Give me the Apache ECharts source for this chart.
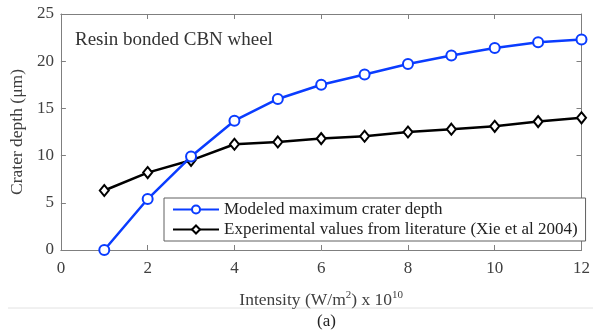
<!DOCTYPE html>
<html>
<head>
<meta charset="utf-8">
<script src="https://cdn.jsdelivr.net/npm/echarts@6/dist/echarts.min.js"></script>
<style>
  html, body { margin: 0; padding: 0; background: #fff; }
  #main { width: 593px; height: 334px; }
</style>
</head>
<body>
<div id="main"></div>
<script>
var intensity = [1, 2, 3, 4, 5, 6, 7, 8, 9, 10, 11, 12];
var modeled = [0, 5.4, 9.9, 13.7, 16.0, 17.5, 18.6, 19.7, 20.6, 21.4, 22.0, 22.3];
var experimental = [6.3, 8.2, 9.5, 11.2, 11.45, 11.8, 12.05, 12.5, 12.8, 13.1, 13.6, 14.0];
var xTicks = [0, 2, 4, 6, 8, 10, 12];
var yTicks = [0, 5, 10, 15, 20, 25];

var FONT = '"Liberation Serif", "Times New Roman", serif';
var AXIS_GREY = '#7f7f7f';
var TEXT_GREY = '#404040';

var chartDom = document.getElementById('main');
var myChart = echarts.init(chartDom);
var option;

function pairs(ys) {
    return intensity.map(function (x, i) { return [x, ys[i]]; });
}

// box axes (top / right) just mirror the ticks, no labels
function boxAxis(pos, max, step) {
    return {
        type: 'value',
        position: pos,
        min: 0,
        max: max,
        interval: step,
        axisLine: { show: true, onZero: false, lineStyle: { color: AXIS_GREY, width: 1 } },
        axisTick: { show: true, inside: true, length: 5, lineStyle: { color: AXIS_GREY } },
        axisLabel: { show: false },
        splitLine: { show: false }
    };
}

option = {
    animation: false,
    textStyle: { fontFamily: FONT },
    grid: {
        left: 58,
        top: 14,
        right: 8,
        bottom: 84,
        show: false
    },
    legend: {
        orient: 'vertical',
        left: 164,
        top: 198,
        itemWidth: 46,
        itemHeight: 10,
        itemGap: 3,
        padding: [3, 8, 3, 8],
        borderColor: '#606060',
        borderWidth: 1,
        backgroundColor: '#fff',
        textStyle: { fontFamily: FONT, fontSize: 17, color: '#222' },
        data: ['Modeled maximum crater depth', 'Experimental values from literature (Xie et al 2004)']
    },
    xAxis: [
        {
            type: 'value',
            min: 0,
            max: 12,
            interval: 2,
            name: '{a|Intensity (W/m}{s|2}{a|) x 10}{s|10}',
            nameLocation: 'middle',
            nameGap: 40,
            nameTextStyle: {
                rich: {
                    a: { fontFamily: FONT, fontSize: 17.5, color: TEXT_GREY },
                    s: { fontFamily: FONT, fontSize: 11, color: TEXT_GREY, padding: [0, 0, 9, 0] }
                }
            },
            axisLine: { show: true, onZero: false, lineStyle: { color: AXIS_GREY, width: 1 } },
            axisTick: { show: true, inside: true, length: 5, lineStyle: { color: AXIS_GREY } },
            axisLabel: {
                fontFamily: FONT, fontSize: 17, color: TEXT_GREY, margin: 10,
                customValues: xTicks
            },
            splitLine: { show: false }
        },
        boxAxis('top', 12, 2)
    ],
    yAxis: [
        {
            type: 'value',
            min: 0,
            max: 25,
            interval: 5,
            name: 'Crater depth (\u03bcm)',
            nameLocation: 'middle',
            nameGap: 33,
            nameTextStyle: { fontFamily: FONT, fontSize: 17.5, color: TEXT_GREY },
            axisLine: { show: true, onZero: false, lineStyle: { color: AXIS_GREY, width: 1 } },
            axisTick: { show: true, inside: true, length: 5, lineStyle: { color: AXIS_GREY } },
            axisLabel: {
                fontFamily: FONT, fontSize: 17, color: TEXT_GREY, margin: 7,
                customValues: yTicks
            },
            splitLine: { show: false }
        },
        boxAxis('right', 25, 5)
    ],
    graphic: [
        {
            type: 'text',
            left: 75,
            top: 31,
            style: { text: 'Resin bonded CBN wheel', font: '19px ' + FONT, fill: '#333' }
        },
        {
            type: 'line',
            shape: { x1: 8, y1: 308, x2: 593, y2: 308 },
            style: { stroke: '#e2e2e2', lineWidth: 1 }
        },
        {
            type: 'text',
            left: 317,
            top: 313,
            style: { text: '(a)', font: '17px ' + FONT, fill: '#222' }
        }
    ],
    series: [
        {
            name: 'Modeled maximum crater depth',
            type: 'line',
            data: pairs(modeled),
            symbol: 'emptyCircle',
            symbolSize: 10,
            lineStyle: { color: '#0a3cff', width: 2.5 },
            itemStyle: { color: '#0a3cff', borderWidth: 2 },
            z: 3
        },
        {
            name: 'Experimental values from literature (Xie et al 2004)',
            type: 'line',
            data: pairs(experimental),
            symbol: 'emptyDiamond',
            symbolSize: [9, 11],
            lineStyle: { color: '#000', width: 2.5 },
            itemStyle: { color: '#000', borderWidth: 2 },
            z: 2
        }
    ]
};

option && myChart.setOption(option);
</script>
</body>
</html>
